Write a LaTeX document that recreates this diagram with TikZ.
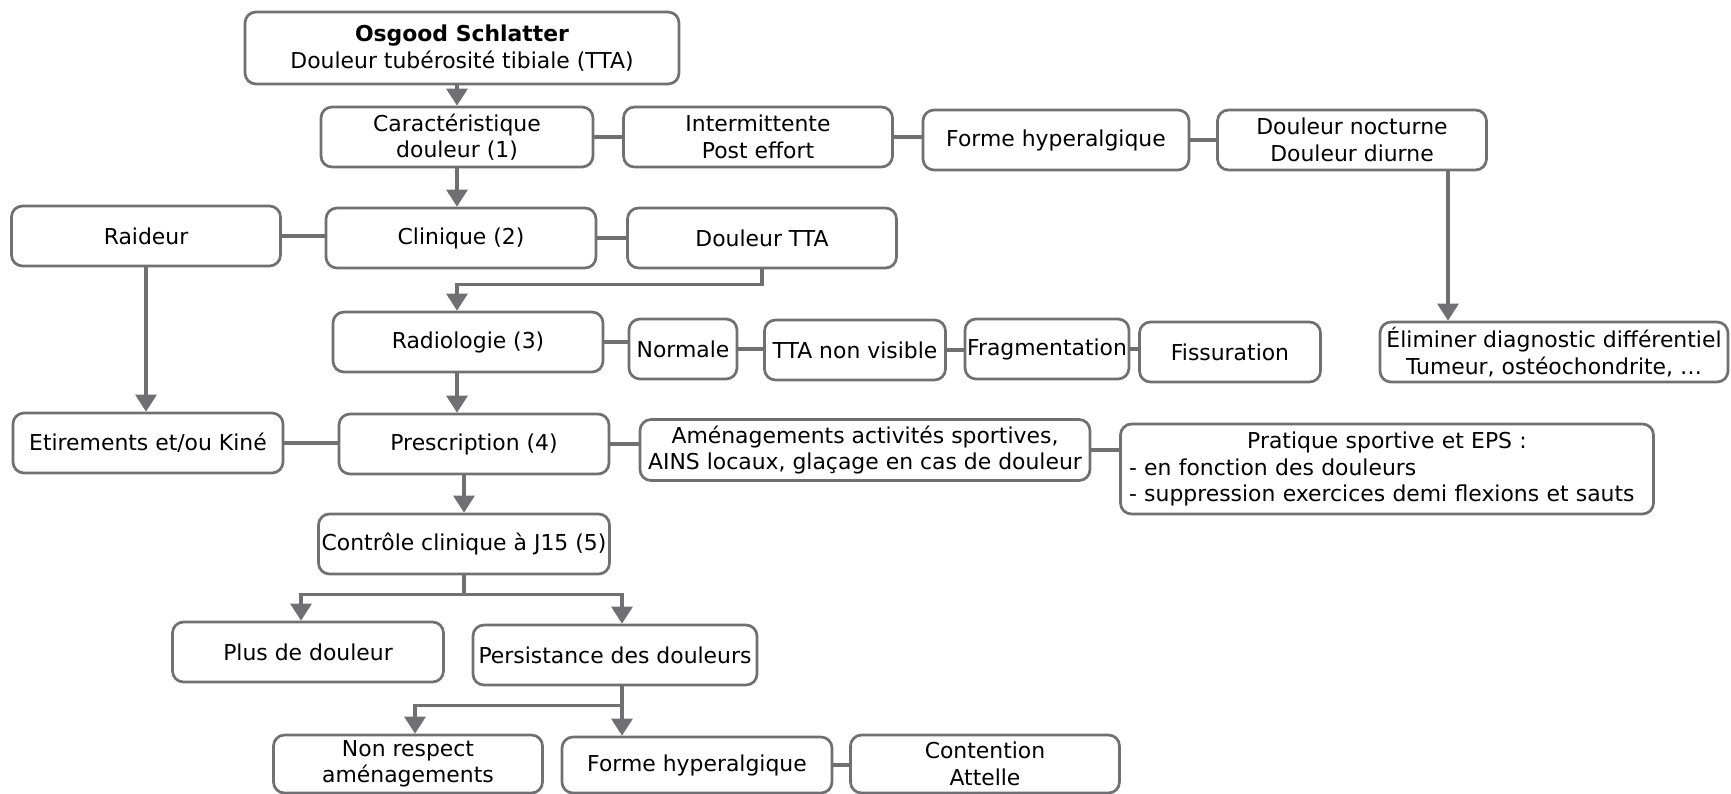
\documentclass[tikz,border=0pt]{standalone}
\usepackage{fontspec}
\setmainfont{DejaVu Sans}
\usepackage{tikz}
\usetikzlibrary{arrows.meta}
\definecolor{linegray}{RGB}{112,112,114}

\tikzset{
  box/.style={draw=linegray, line width=2.7pt, rounded corners=11pt, fill=white,
    align=center, inner sep=2pt, minimum height=60pt,
    font=\fontsize{21.9}{26.5}\selectfont},
  link/.style={draw=linegray, line width=3.1pt},
  flow/.style={link, -{Triangle[width=21pt,length=17pt]}}
}

\begin{document}
\begin{tikzpicture}[x=1pt,y=-1pt]
\useasboundingbox (0,0) rectangle (1731,793);
\coordinate (axis) at (457,0);
\node [box, minimum width=434pt, minimum height=72pt] (top) at (462,48) {\textbf{Osgood Schlatter}\\Douleur tubérosité tibiale (TTA)};
\node [box, minimum width=272pt] (car) at (457,137) {Caractéristique\\douleur (1)};
\node [box, minimum width=269pt] (inter) at (758,137) {Intermittente\\Post effort};
\node [box, minimum width=266pt] (fhyp) at (1056,140) {Forme hyperalgique};
\node [box, minimum width=269pt] (noct) at (1352,140) {Douleur nocturne\\Douleur diurne};
\node [box, minimum width=269pt] (raid) at (146,236) {Raideur};
\node [box, minimum width=270pt] (clin) at (461,238) {Clinique (2)};
\node [box, minimum width=269pt] (tta) at (762,238) {Douleur TTA};
\node [box, minimum width=270pt] (rad) at (468,342) {Radiologie (3)};
\node [box, minimum width=108pt] (norm) at (683,349) {Normale};
\node [box, minimum width=181pt] (nonvis) at (855,350) {TTA non visible};
\node [box, minimum width=155pt] (frag) at (1047,349) {Fragmentation};
\node [box, minimum width=181pt] (fiss) at (1230,352) {Fissuration};
\node [box, minimum width=348pt, inner sep=1pt] (elim) at (1554,352) {Éliminer diagnostic différentiel\\Tumeur, ostéochondrite, …};
\node [box, minimum width=270pt] (etir) at (148,443) {Etirements et/ou Kiné};
\node [box, minimum width=270pt] (presc) at (474,444) {Prescription (4)};
\node [box, minimum width=450pt, minimum height=61pt] (amen) at (865,450) {Aménagements activités sportives,\\AINS locaux, glaçage en cas de douleur};
\node [box, minimum width=533pt, minimum height=90pt, align=left, text width=516pt] (prat) at (1387,469) {\hfill Pratique sportive et EPS :\hfill\null\\- en fonction des douleurs\\- suppression exercices demi flexions et sauts};
\node [box, minimum width=291pt] (ctl) at (464,544) {Contrôle clinique à J15 (5)};
\node [box, minimum width=271pt] (plus) at (308,652) {Plus de douleur};
\node [box, minimum width=284pt] (pers) at (615,655) {Persistance des douleurs};
\node [box, minimum width=269pt, minimum height=58pt] (nonr) at (408,764) {Non respect\\aménagements};
\node [box, minimum width=270pt, minimum height=56pt] (fhb) at (697,765) {Forme hyperalgique};
\node [box, minimum width=269pt, minimum height=58pt] (cont) at (985,764) {Contention\\Attelle};
% main column
\draw[flow] (top.south -| axis) -- (car.north -| axis);
\draw[flow] (car.south -| axis) -- (clin.north -| axis);
\draw[flow] (tta.south) -- ++(0,15) -| (rad.north -| axis);
\draw[flow] (rad.south -| axis) -- (presc.north -| axis);
\draw[flow] (presc.south -| ctl.north) -- (ctl.north);
% side links
\draw[link] (car.east) -- (car.east -| inter.west);
\draw[link] (inter.east) -- (inter.east -| fhyp.west);
\draw[link] (fhyp.east) -- (fhyp.east -| noct.west);
\draw[flow] ([xshift=96pt]noct.south) -- ([xshift=96pt]noct.south |- elim.north);
\draw[link] (raid.east) -- (raid.east -| clin.west);
\draw[link] (clin.east) -- (clin.east -| tta.west);
\draw[flow] (raid.south) -- (raid.south |- etir.north);
\draw[link] (rad.east) -- (rad.east -| norm.west);
\draw[link] (norm.east) -- (norm.east -| nonvis.west);
\draw[link] (nonvis.east) -- (nonvis.east -| frag.west);
\draw[link] (frag.east) -- (frag.east -| fiss.west);
\draw[link] (etir.east) -- (etir.east -| presc.west);
\draw[link] (presc.east) -- (presc.east -| amen.west);
\draw[link] (amen.east) -- (amen.east -| prat.west);
% follow-up
\draw[link] (ctl.south) -- ++(0,19) coordinate (ctlsplit);
\draw[flow] (ctlsplit) -| ([xshift=-7pt]plus.north);
\draw[flow] (ctlsplit) -| ([xshift=7pt]pers.north);
\draw[link] ([xshift=7pt]pers.south) -- ++(0,19) coordinate (persplit);
\draw[flow] (persplit) -| ([xshift=7pt]nonr.north);
\draw[flow] (persplit) -- (persplit |- fhb.north);
\draw[link] (fhb.east) -- (fhb.east -| cont.west);
\end{tikzpicture}
\end{document}
